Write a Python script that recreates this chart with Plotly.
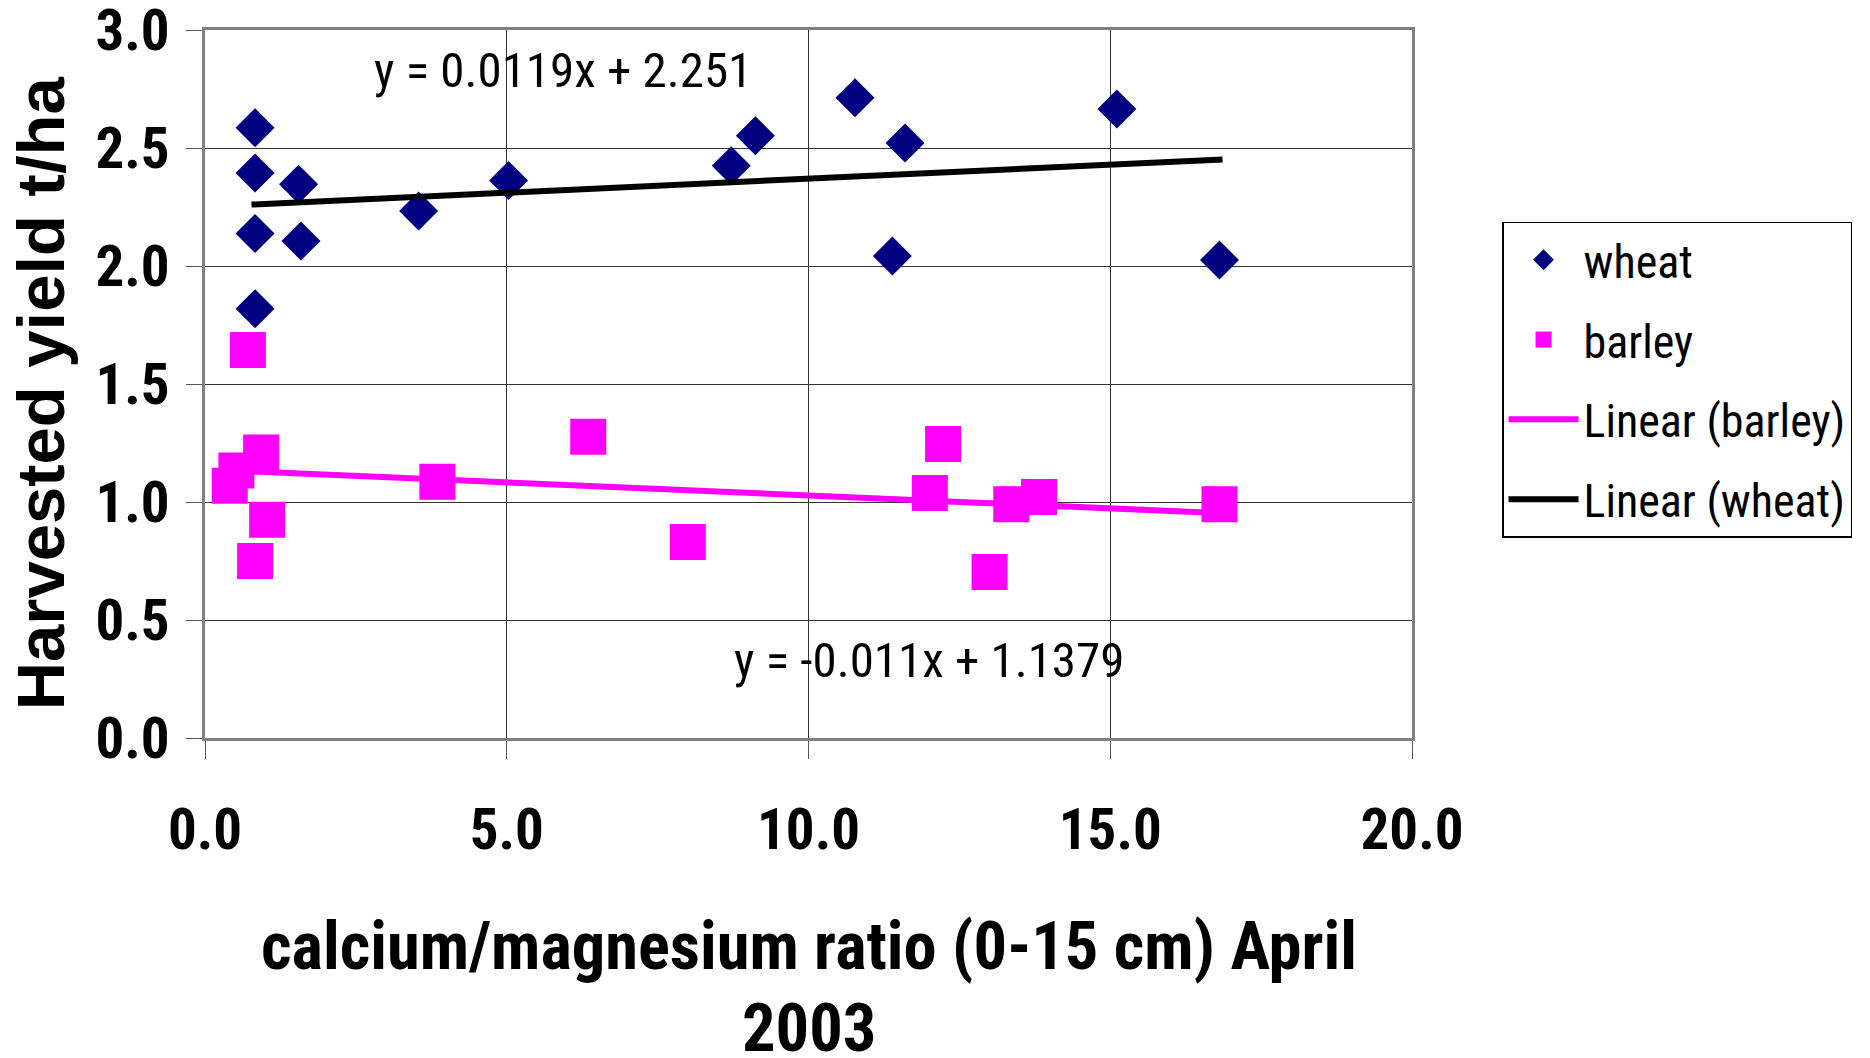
import plotly.graph_objects as go

# ---- data ----
wheat_x = [0.83, 0.83, 0.83, 0.83, 1.55, 1.59, 3.54, 5.03, 8.72, 9.12, 10.77, 11.39, 11.60, 15.11, 16.81]
wheat_y = [2.586, 2.394, 2.138, 1.819, 2.346, 2.106, 2.233, 2.362, 2.425, 2.552, 2.713, 2.042, 2.521, 2.665, 2.025]

barley_x = [0.71, 0.93, 0.52, 0.41, 1.03, 0.83, 3.85, 6.35, 8.00, 12.23, 12.01, 13.36, 13.82, 13.00, 16.81]
barley_y = [1.644, 1.210, 1.134, 1.069, 0.925, 0.750, 1.086, 1.277, 0.830, 1.246, 1.038, 0.990, 1.021, 0.703, 0.990]

# trend lines (equations shown on the chart)
wheat_slope, wheat_intercept = 0.0119, 2.251
barley_slope, barley_intercept = -0.011, 1.1379
trend_x = [0.77, 16.86]

wheat_eq = "y = 0.0119x + 2.251"
barley_eq = "y = -0.011x + 1.1379"

x_ticks = [0, 5, 10, 15, 20]
x_tick_labels = ["0.0", "5.0", "10.0", "15.0", "20.0"]
y_ticks = [0, 0.5, 1.0, 1.5, 2.0, 2.5, 3.0]
y_tick_labels = ["0.0", "0.5", "1.0", "1.5", "2.0", "2.5", "3.0"]

x_title_lines = ["calcium/magnesium ratio (0-15 cm) April", "2003"]
y_title = "Harvested yield t/ha"

NARROW = "Roboto Condensed, Liberation Sans, Arial, sans-serif"
REG = "Liberation Sans, Arial, sans-serif"

wheat_trend_y = [wheat_slope * v + wheat_intercept for v in trend_x]
barley_trend_y = [barley_slope * v + barley_intercept for v in trend_x]

fig = go.Figure()
fig.add_trace(go.Scatter(x=wheat_x, y=wheat_y, mode="markers", name="wheat", legendgroup="a",
                         marker=dict(symbol="diamond", size=30, color="#000080", line=dict(width=0))))
fig.add_trace(go.Scatter(x=barley_x, y=barley_y, mode="markers", name="barley", legendgroup="b",
                         marker=dict(symbol="square", size=36, color="#FF00FF", line=dict(width=0))))
fig.add_trace(go.Scatter(x=trend_x, y=barley_trend_y, mode="lines", name="Linear (barley)", legendgroup="c",
                         line=dict(color="#FF00FF", width=6)))
fig.add_trace(go.Scatter(x=trend_x, y=wheat_trend_y, mode="lines", name="Linear (wheat)", legendgroup="d",
                         line=dict(color="#000000", width=6)))

fig.add_annotation(x=5.93, y=2.83, xref="x", yref="y", text=wheat_eq, showarrow=False,
                   font=dict(family=NARROW, size=49, color="black"))
fig.add_annotation(x=12.0, y=0.33, xref="x", yref="y", text=barley_eq, showarrow=False,
                   font=dict(family=NARROW, size=49, color="black"))

# axis titles
fig.add_annotation(x=-0.1363, y=0.4875, xref="paper", yref="paper", text="<b>" + y_title + "</b>",
                   textangle=-90, showarrow=False, xanchor="center", yanchor="middle",
                   font=dict(family=REG, size=67, color="black"))
fig.add_annotation(x=0.5, y=-0.2932, xref="paper", yref="paper", text="<b>" + x_title_lines[0] + "</b>",
                   showarrow=False, xanchor="center", yanchor="middle",
                   font=dict(family=NARROW, size=66.5, color="black"))
fig.add_annotation(x=0.5, y=-0.409, xref="paper", yref="paper", text="<b>" + x_title_lines[1] + "</b>",
                   showarrow=False, xanchor="center", yanchor="middle",
                   font=dict(family=NARROW, size=66.5, color="black"))

tickfont = dict(family=NARROW, size=57, color="black")
fig.update_xaxes(range=[0, 20], tickvals=x_ticks, ticktext=[f"<b>{t}</b>" for t in x_tick_labels],
                 showgrid=True, gridcolor="#333333", gridwidth=1, zeroline=False,
                 showline=True, linecolor="#808080", linewidth=3, mirror=True,
                 ticks="outside", ticklen=18, tickcolor="#555555", tickwidth=1, automargin=False,
                 tickfont=tickfont, ticklabelstandoff=22, ticklabeloverflow="allow")
fig.update_yaxes(range=[0, 3], tickvals=y_ticks, ticktext=[f"<b>{t}</b>" for t in y_tick_labels],
                 showgrid=True, gridcolor="#333333", gridwidth=1, zeroline=False,
                 showline=True, linecolor="#808080", linewidth=3, mirror=True,
                 ticks="outside", ticklen=16, tickcolor="#555555", tickwidth=1, automargin=False,
                 tickfont=tickfont, ticklabelstandoff=5, ticklabeloverflow="allow")

fig.update_layout(
    width=1862, height=1050,
    margin=dict(l=197, r=458, t=22, b=320, autoexpand=False),
    plot_bgcolor="white", paper_bgcolor="white",
    showlegend=True,
    legend=dict(x=1.0746, y=0.729, xanchor="left", yanchor="top",
                bordercolor="black", borderwidth=1.5, bgcolor="white",
                font=dict(family=NARROW, size=46, color="black"),
                tracegroupgap=17, itemwidth=70, traceorder="grouped"),
)

fig.write_html("out.html")
